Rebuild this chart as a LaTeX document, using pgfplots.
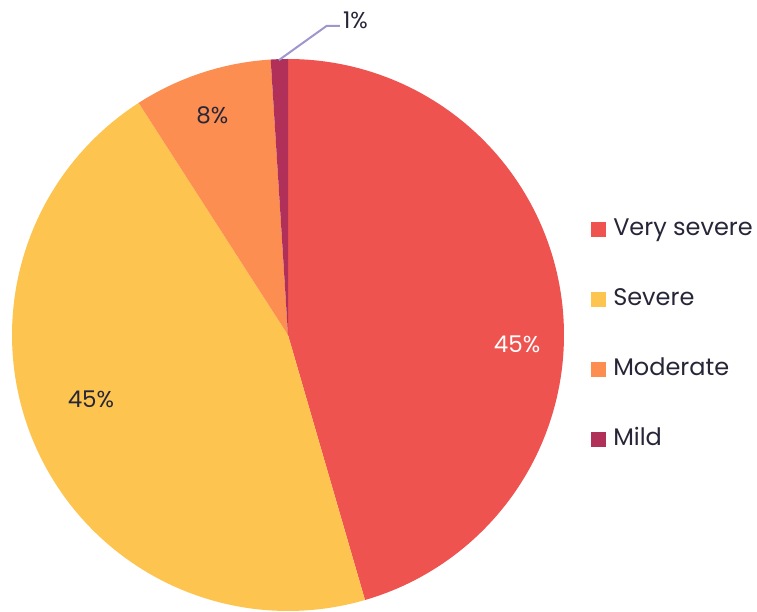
\documentclass[border=0pt]{standalone}
\usepackage{pgfplots}
\pgfplotsset{compat=1.18}
\usepackage{fontspec}
\setmainfont{Poppins}
\definecolor{cVS}{RGB}{239,83,80}
\definecolor{cS}{RGB}{254,196,80}
\definecolor{cM}{RGB}{253,142,82}
\definecolor{cMi}{RGB}{176,48,90}
\definecolor{txt}{RGB}{38,38,56}
\definecolor{lead}{RGB}{160,150,205}
% shares in percent
\def\vA{45.5}\def\vB{45.4}\def\vC{8.1}\def\vD{1.0}
\begin{document}
\begin{tikzpicture}[x=1pt,y=1pt]
\pgfmathsetmacro\aA{90}
\pgfmathsetmacro\aB{\aA-3.6*\vA}
\pgfmathsetmacro\aC{\aB-3.6*\vB}
\pgfmathsetmacro\aD{\aC-3.6*\vC}
\pgfmathsetmacro\aE{\aD-3.6*\vD}
\path[use as bounding box] (0,0) rectangle (757,612);
\begin{axis}[at={(288pt,277pt)}, anchor=center, scale only axis,
  width=552pt, height=552pt, xmin=-1, xmax=1, ymin=-1, ymax=1,
  hide axis, clip=false,
  legend image code/.code={\draw[#1, draw=none] (0pt,-7.5pt) rectangle (15pt,7.5pt);},
  legend style={at={(axis cs:1.098,0.0)}, anchor=west, draw=none, fill=none,
    inner sep=0pt, row sep=46pt, column sep=7pt,
    nodes={inner sep=0pt, text height=18pt, text depth=6pt, font=\fontsize{24}{28}\selectfont, text=txt}},
  legend cell align=left,
]
\addplot[fill=cVS, draw=none, domain=\aB:\aA, samples=120] ({cos(x)},{sin(x)}) -- (axis cs:0,0) -- cycle;
\addlegendentry{Very severe}
\addplot[fill=cS, draw=none, domain=\aC:\aB, samples=120] ({cos(x)},{sin(x)}) -- (axis cs:0,0) -- cycle;
\addlegendentry{Severe}
\addplot[fill=cM, draw=none, domain=\aD:\aC, samples=40] ({cos(x)},{sin(x)}) -- (axis cs:0,0) -- cycle;
\addlegendentry{Moderate}
\addplot[fill=cMi, draw=none, domain=\aE:\aD, samples=10] ({cos(x)},{sin(x)}) -- (axis cs:0,0) -- cycle;
\addlegendentry{Mild}
\addplot[forget plot, lead, line width=2pt] coordinates {(-0.033,0.996) (0.140,1.120) (0.188,1.120)};
\node[font=\fontsize{23}{27}\selectfont, text=white] at (axis cs:0.830,-0.033) {45\%};
\node[font=\fontsize{23}{27}\selectfont, text=txt] at (axis cs:-0.714,-0.232) {45\%};
\node[font=\fontsize{23}{27}\selectfont, text=txt] at (axis cs:-0.274,0.797) {8\%};
\node[font=\fontsize{23}{27}\selectfont, text=txt, anchor=west, inner sep=0pt] at (axis cs:0.199,1.141) {1\%};
\end{axis}
\end{tikzpicture}
\end{document}
